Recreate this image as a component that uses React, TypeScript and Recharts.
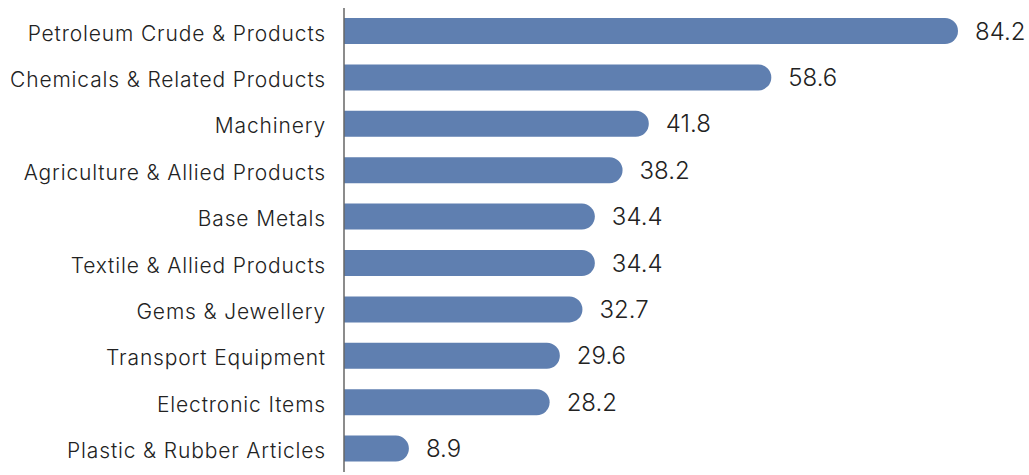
import { Bar, BarChart, LabelList, XAxis, YAxis } from 'recharts';

// Categories top to bottom
const categories = [
  'Petroleum Crude & Products',
  'Chemicals & Related Products',
  'Machinery',
  'Agriculture & Allied Products',
  'Base Metals',
  'Textile & Allied Products',
  'Gems & Jewellery',
  'Transport Equipment',
  'Electronic Items',
  'Plastic & Rubber Articles',
];

const values = [84.2, 58.6, 41.8, 38.2, 34.4, 34.4, 32.7, 29.6, 28.2, 8.9];

const data = categories.map((name, i) => ({ name, value: values[i] }));

const App = () => {
  return (
    <div style={{ position: 'absolute', left: 0, top: 0, background: '#fff' }}>
      <BarChart
        width={1029}
        height={475}
        data={data}
        layout="vertical"
        margin={{ top: 8, right: 71, left: 0, bottom: 3 }}
        barSize={26}
      >
        <XAxis type="number" domain={[0, 84.2]} hide />
        <YAxis
          type="category"
          dataKey="name"
          width={344}
          tickLine={false}
          tickMargin={12}
          axisLine={{ stroke: '#666', strokeWidth: 1.5 }}
          tick={{ fill: '#222', fontSize: 21, fontFamily: 'Inter', fontWeight: 300, letterSpacing: 0.85, dy: 2 }}
          interval={0}
        />
        <Bar dataKey="value" fill="#5f7fb0" radius={[0, 13, 13, 0]} isAnimationActive={false}>
          <LabelList
            dataKey="value"
            position="right"
            offset={17}
            style={{ fill: '#222', fontSize: 24, fontFamily: 'Inter', fontWeight: 300 }}
          />
        </Bar>
      </BarChart>
    </div>
  );
};

export default App;
